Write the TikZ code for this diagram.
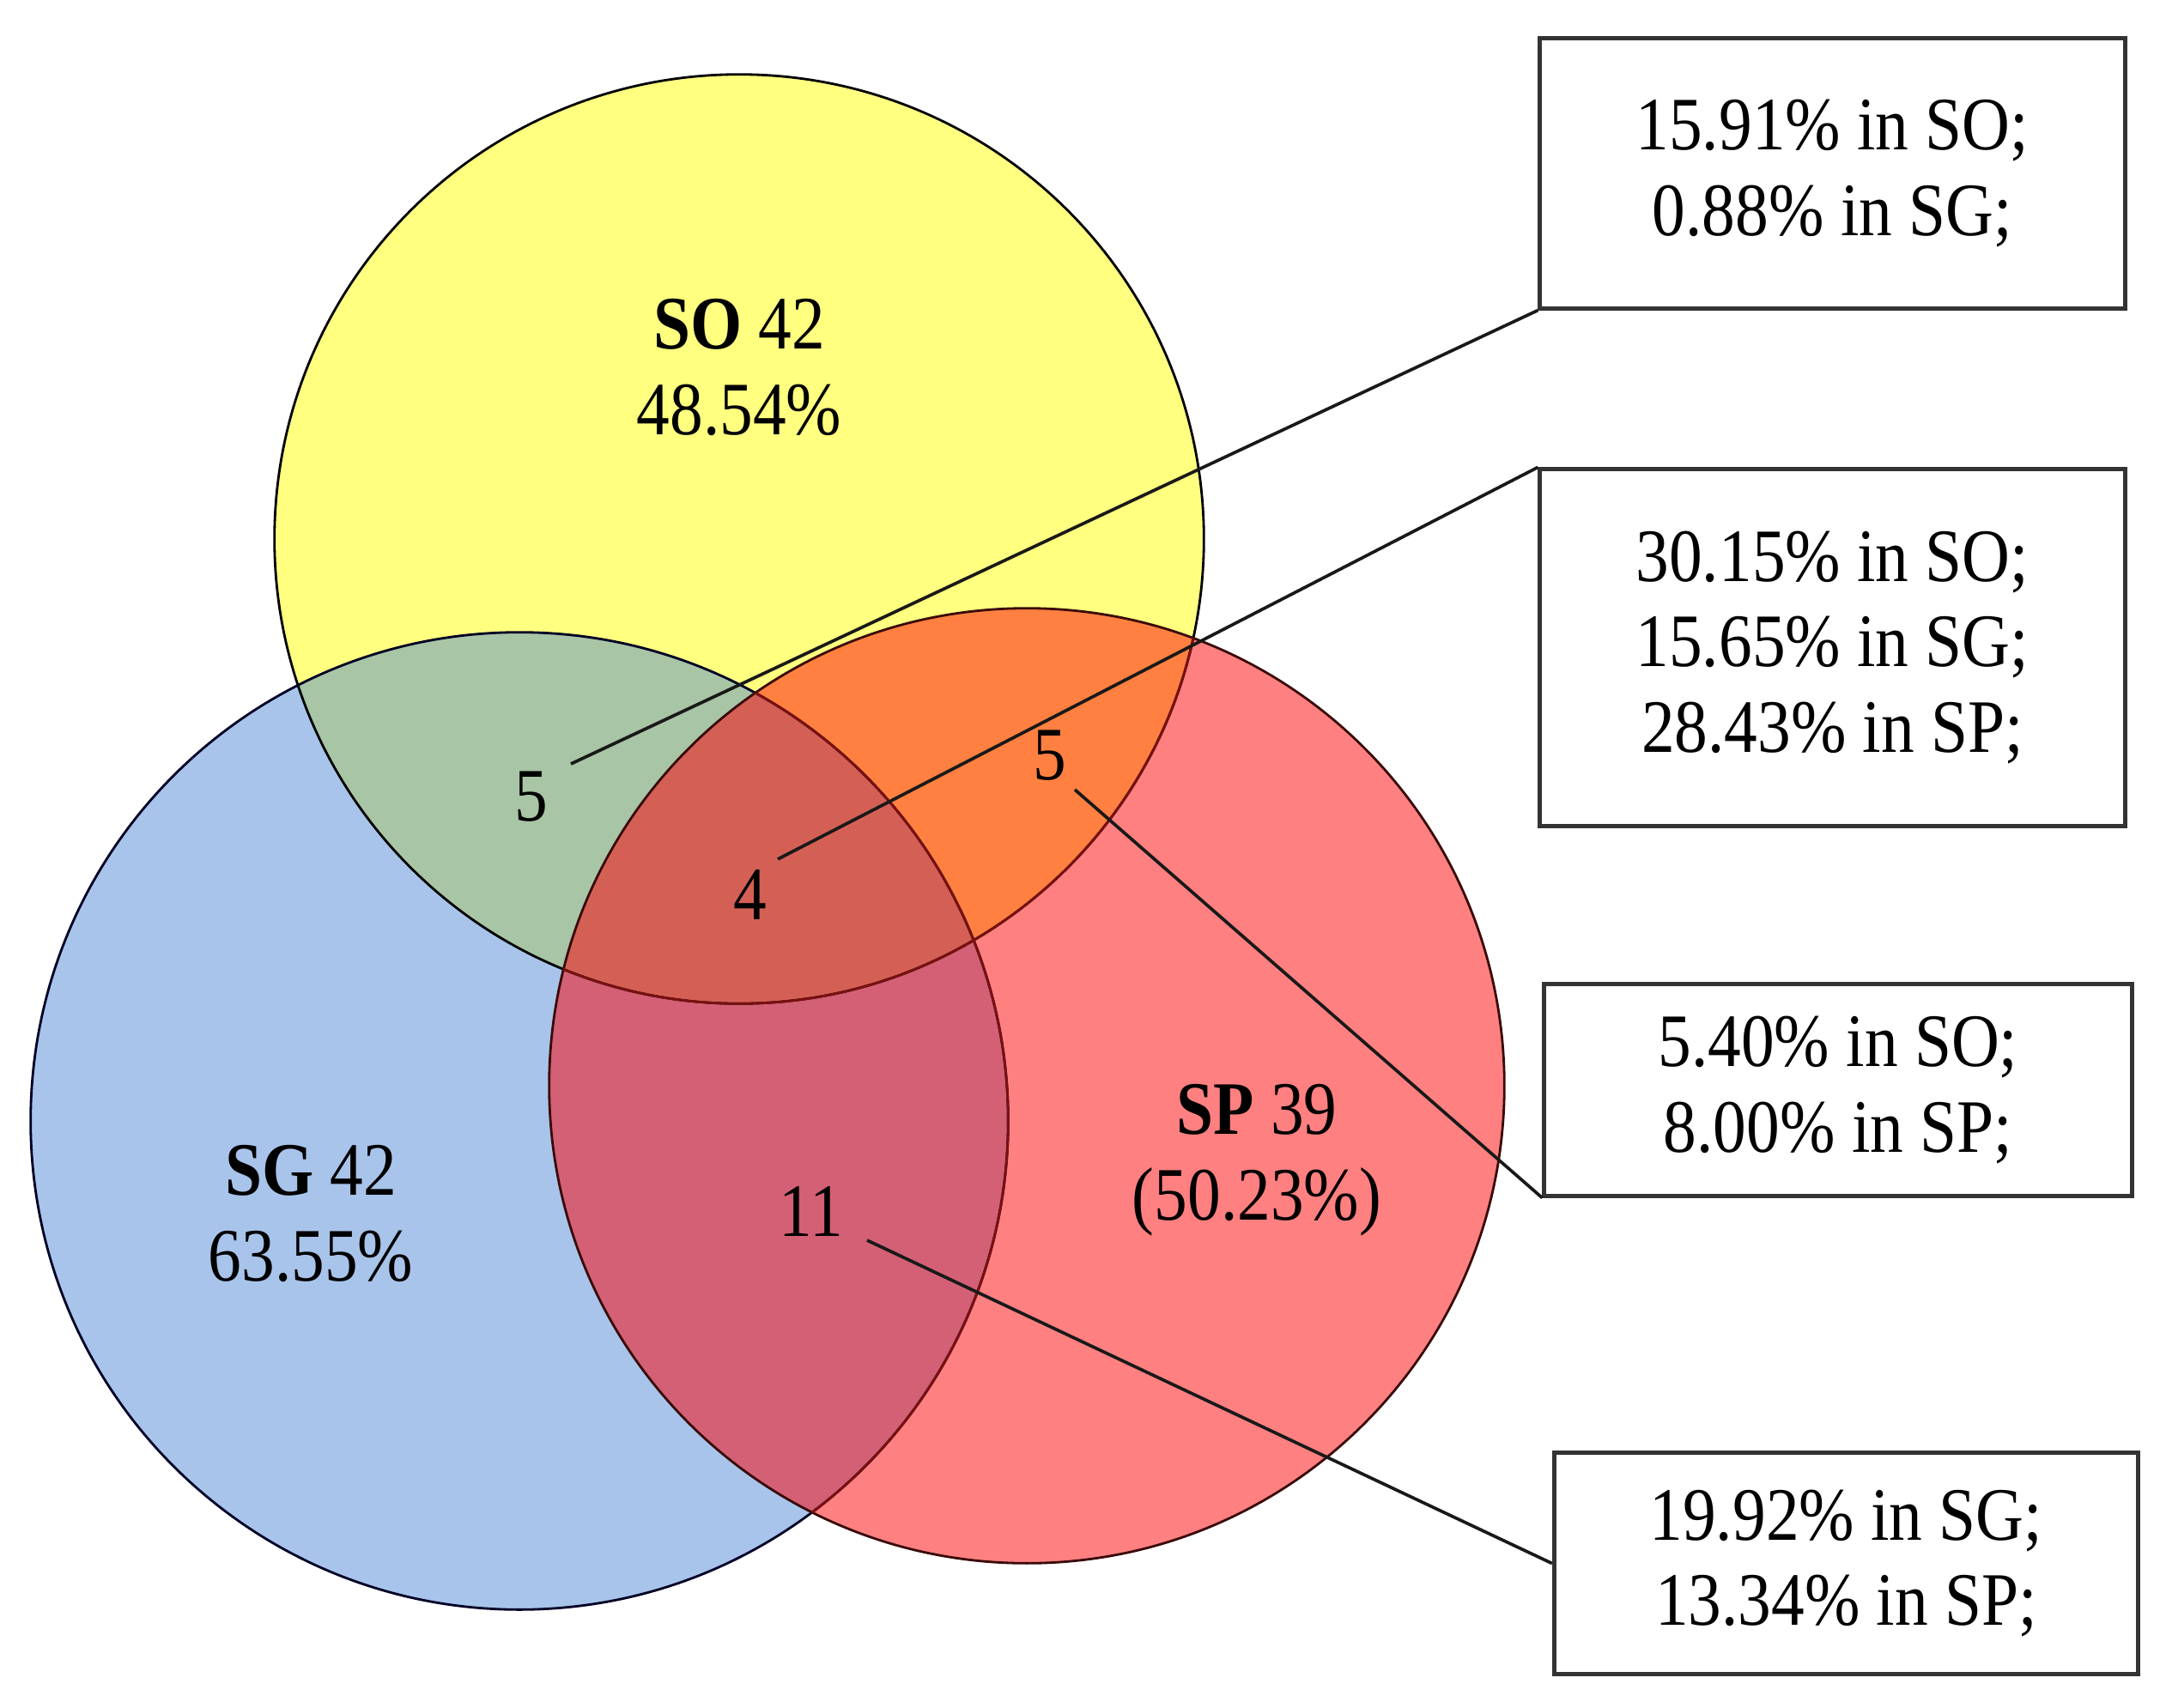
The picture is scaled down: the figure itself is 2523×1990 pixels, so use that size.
\documentclass[tikz,border=0pt]{standalone}
\usepackage{fontspec}
\setmainfont{Liberation Serif}[FakeStretch=0.88]
\definecolor{cSO}{HTML}{FFFF80}
\definecolor{cSG}{HTML}{A8C4EA}
\definecolor{cSP}{HTML}{FF8080}
\definecolor{cOG}{HTML}{A8C5A6}
\definecolor{cOP}{HTML}{FF8040}
\definecolor{cGP}{HTML}{D36075}
\definecolor{cAll}{HTML}{D46055}
\definecolor{cEdge}{HTML}{3A0A0A}
\definecolor{cEdgeIn}{HTML}{7A1010}
\begin{document}
\begin{tikzpicture}[x=0.01cm,y=-0.01cm,
  every node/.style={font=\fontsize{25}{28.4}\selectfont},
  lbl/.style={align=center,inner sep=0pt},
  infobox/.style={draw=black!80,line width=1.4pt,fill=white,align=center,minimum width=6.81cm,inner sep=0pt},
  conn/.style={line width=1.05pt,black!90},
  ring/.style={line width=0.8pt}]
\useasboundingbox (0,0) rectangle (2523,1990);
\fill[white] (0,0) rectangle (2523,1990);
% base fills
\fill[cSO] (861,628) circle[radius=5.41cm];
\fill[cSG] (605,1306) circle[radius=5.69cm];
\fill[cSP] (1196,1265) circle[radius=5.56cm];
% pairwise overlaps
\begin{scope}
  \clip (861,628) circle[radius=5.41cm];
  \fill[cOG] (605,1306) circle[radius=5.69cm];
\end{scope}
\begin{scope}
  \clip (605,1306) circle[radius=5.69cm];
  \fill[cGP] (1196,1265) circle[radius=5.56cm];
\end{scope}
\begin{scope}
  \clip (861,628) circle[radius=5.41cm];
  \fill[cOP] (1196,1265) circle[radius=5.56cm];
  \clip (605,1306) circle[radius=5.69cm];
  \fill[cAll] (1196,1265) circle[radius=5.56cm];
\end{scope}
% outlines
\draw[ring,black] (861,628) circle[radius=5.41cm];
\draw[ring,black!85!blue] (605,1306) circle[radius=5.69cm];
\draw[ring,cEdge] (1196,1265) circle[radius=5.56cm];
\begin{scope}
  \clip (1196,1265) circle[radius=5.56cm];
  \draw[ring,cEdgeIn] (861,628) circle[radius=5.41cm];
  \draw[ring,cEdgeIn] (605,1306) circle[radius=5.69cm];
\end{scope}
% circle labels
\node[lbl] (so) at (861,428) {\textbf{SO} 42\\48.54\%};
\node[lbl] (sg) at (362,1414) {\textbf{SG} 42\\63.55\%};
\node[lbl] (sp) at (1464,1352) {\textbf{SP} 39\\(50.23\%)};
% region counts
\node[lbl] (nOG) at (619,928) {5};
\node[lbl] (nAll) at (874,1043) {4};
\node[lbl] (nOP) at (1223,880) {5};
\node[lbl] (nGP) at (945,1411) {11};
% info boxes
\node[infobox,minimum height=3.14cm] (b1) at (2134.5,202) {15.91\% in SO;\\0.88\% in SG;};
\node[infobox,minimum height=4.15cm] (b2) at (2134.5,754.5) {30.15\% in SO;\\15.65\% in SG;\\28.43\% in SP;};
\node[infobox,minimum height=2.46cm,minimum width=6.84cm] (b3) at (2141,1270) {5.40\% in SO;\\8.00\% in SP;};
\node[infobox,minimum height=2.57cm,minimum width=6.80cm] (b4) at (2150.5,1821.5) {19.92\% in SG;\\13.34\% in SP;};
% connector starts
\coordinate (s1) at (665,890);
\coordinate (s2) at (906,1001);
\coordinate (s3) at (1252,920);
\coordinate (s4) at (1010,1445);
\draw[conn] (s1) -- (b1.south west);
\draw[conn] (s2) -- (b2.north west);
\draw[conn] (s3) -- (b3.south west);
\draw[conn] (s4) -- (b4.west);
\end{tikzpicture}
\end{document}
